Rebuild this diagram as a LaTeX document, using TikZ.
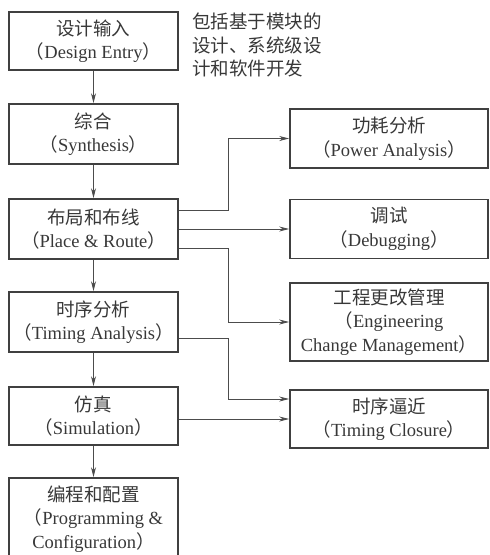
\documentclass[tikz,border=0pt]{standalone}
\usepackage{fontspec}
\setmainfont{Liberation Serif}
\newfontfamily\cjk{Noto Sans CJK SC}
\usetikzlibrary{arrows.meta}
\newcommand\zh[1]{{\cjk #1}}
\newcommand\lp{\zh{（}}
\newcommand\rp{\zh{）}}
\tikzset{
  stage/.style={draw=black!75,line width=1.6pt,align=center,text=black!78,
    minimum width=169pt,inner sep=0pt},
  task/.style={stage,minimum width=198pt},
  flow/.style={draw=black!70,line width=0.8pt,-{Stealth[length=10pt,width=5pt]}}
}

\begin{document}
\begin{tikzpicture}[x=1pt,y=-1pt,font=\fontsize{18.5}{23.5}\selectfont]
  \clip (0,0) rectangle (490,555);
  \pgfmathsetmacro\xl{93.5}
  \pgfmathsetmacro\xr{389}
  \pgfmathsetmacro\xj{228}
  \node[stage,minimum height=58pt] (entry) at (\xl,41) {\zh{设计输入}\\\lp Design Entry\rp};
  \node[stage,minimum height=60pt] (synth) at (\xl,134) {\zh{综合}\\\lp Synthesis\rp};
  \node[stage,minimum height=60pt] (par) at (\xl,229) {\zh{布局和布线}\\\lp Place \& Route\rp};
  \node[stage,minimum height=60pt] (timing) at (\xl,322) {\zh{时序分析}\\\lp Timing Analysis\rp};
  \node[stage,minimum height=58pt] (sim) at (\xl,416) {\zh{仿真}\\\lp Simulation\rp};
  \node[stage,minimum height=82pt] (prog) at (\xl,519) {\zh{编程和配置}\\\lp Programming \&\\Configuration\rp};
  \node[anchor=west,align=left,text=black!78,inner sep=0pt] (note) at (192,45)
    {\zh{包括基于模块的}\\\zh{设计、系统级设}\\\zh{计和软件开发}};
  \node[task,minimum height=59pt] (power) at (\xr,138.5) {\zh{功耗分析}\\\lp Power Analysis\rp};
  \node[task,minimum height=59pt] (debug) at (\xr,229) {\zh{调试}\\\lp Debugging\rp};
  \node[task,minimum height=78pt] (eng) at (\xr,322) {\zh{工程更改管理}\\\lp Engineering\\Change Management\rp};
  \node[task,minimum height=58pt] (close) at (\xr,419) {\zh{时序逼近}\\\lp Timing Closure\rp};
  \coordinate (j) at (\xj,0);
  \coordinate (c1) at ([yshift=20pt]close.west);
  \draw[flow] (entry) -- (synth);
  \draw[flow] (synth) -- (par);
  \draw[flow] (par) -- (timing);
  \draw[flow] (timing) -- (sim);
  \draw[flow] (sim) -- (prog);
  \draw[flow] ([yshift=19pt]par.east) -| (j |- power.west) -- (power.west);
  \draw[flow] (par.east) -- (debug.west);
  \draw[flow] ([yshift=-19pt]par.east) -| (j |- eng.west) -- (eng.west);
  \draw[flow] ([yshift=-16pt]timing.east) -| (j |- c1) -- (c1);
  \draw[flow] (close.west -| sim.east) -- (close.west);
\end{tikzpicture}
\end{document}
